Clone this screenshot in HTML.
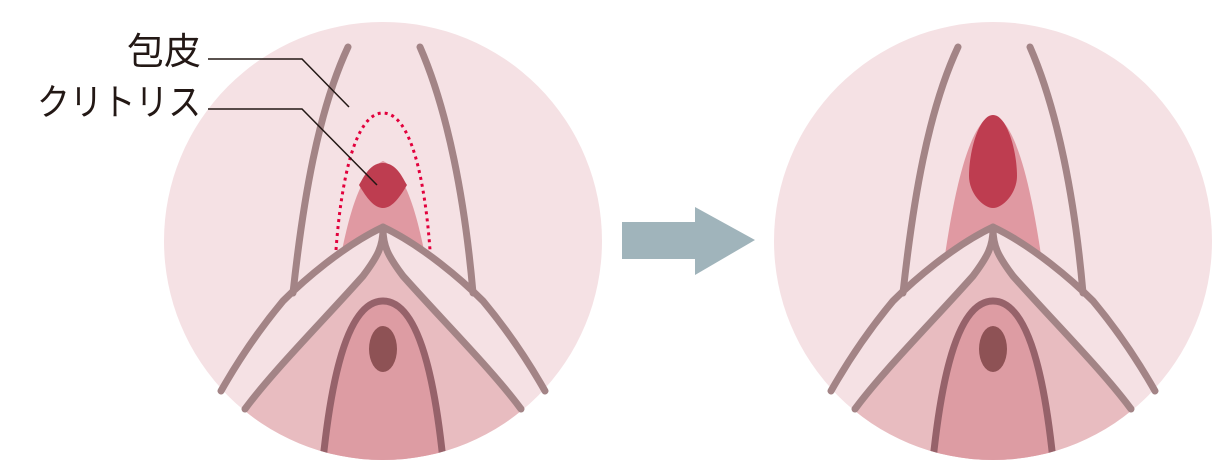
<!DOCTYPE html>
<html><head><meta charset="utf-8"><style>
html,body{margin:0;padding:0;background:#fff;}
svg{display:block;}
text{font-family:"Liberation Sans","Noto Sans CJK JP",sans-serif;font-size:37px;fill:#231815;}
</style></head><body>
<svg width="1213" height="461" viewBox="0 0 1213 461" xmlns="http://www.w3.org/2000/svg">
<defs>
<clipPath id="c"><circle cx="0" cy="0" r="219"/></clipPath>
<g id="over">
  <g clip-path="url(#c)">
    <path d="M0,-14 C-40,5 -80,40 -100,60 C-125,90 -145,120 -175,170 L-175,240 L175,240 L175,170 C145,120 125,90 100,60 C80,40 40,5 0,-14 Z" fill="#f5e1e4"/>
    <path d="M0,-12 C0,5 -5,15 -20,35 C-60,80 -110,130 -145,180 L-145,240 L145,240 L145,180 C110,130 60,80 20,35 C5,15 0,5 0,-12 Z" fill="#e8bcc0"/>
    <path d="M-62,240 C-55,160 -40,60 0,60 C40,60 55,160 62,240 Z" fill="#dd9ca3" stroke="#96626a" stroke-width="7"/>
    <ellipse cx="0" cy="108" rx="14" ry="23" fill="#8e5255"/>
  </g>
  <g fill="none" stroke="#a38486" stroke-width="7" stroke-linecap="round" stroke-linejoin="round">
    <path d="M-35,-194 C-65,-130 -80,-40 -90,52"/>
    <path d="M37,-194 C65,-130 82,-40 90,52"/>
    <path d="M0,-14 C-40,5 -80,40 -100,60 C-125,90 -145,120 -162,150"/>
    <path d="M0,-14 C40,5 80,40 100,60 C125,90 145,120 162,150"/>
    <path d="M0,-12 C0,5 -5,15 -20,35 C-60,80 -110,130 -138,168"/>
    <path d="M0,-12 C0,5 5,15 20,35 C60,80 110,130 138,168"/>
  </g>
</g>
</defs>

<g transform="translate(383,241)">
  <circle cx="0" cy="0" r="219" fill="#f5e1e4"/>
  <path d="M-42,14 C-33,-30 -22,-70 0,-80 C22,-70 33,-30 42,14 Z" fill="#e099a2"/>
  <path d="M0,-78 C14,-78 20,-62 24,-56 C18,-46 10,-33 0,-33 C-10,-33 -18,-46 -24,-56 C-20,-62 -14,-78 0,-78 Z" fill="#be3d50"/>
  <use href="#over"/>
  <path d="M-47,9 C-42,-60 -28,-128 0,-128 C28,-128 42,-60 47,9" fill="none" stroke="#e2003c" stroke-width="3" stroke-dasharray="3,4"/>
</g>

<g transform="translate(993,241)">
  <circle cx="0" cy="0" r="219" fill="#f5e1e4"/>
  <path d="M-48,14 C-40,-40 -25,-120 0,-126 C25,-120 40,-40 48,14 Z" fill="#e099a2"/>
  <path d="M0,-126 C14,-126 24,-90 24,-65 C24,-48 10,-33 0,-33 C-10,-33 -24,-48 -24,-65 C-24,-90 -14,-126 0,-126 Z" fill="#be3d50"/>
  <use href="#over"/>
</g>

<path d="M622,222 L695,222 L695,207 L755,240 L695,275 L695,259 L622,259 Z" fill="#a0b4bb"/>

<text x="201" y="64" text-anchor="end">包皮</text>
<text x="201" y="115" text-anchor="end" textLength="164" lengthAdjust="spacingAndGlyphs">クリトリス</text>
<polyline points="208,59 302,59 349,107" fill="none" stroke="#231815" stroke-width="1.5"/>
<polyline points="208,109 302,109 377,185" fill="none" stroke="#231815" stroke-width="1.5"/>
</svg>
</body></html>
